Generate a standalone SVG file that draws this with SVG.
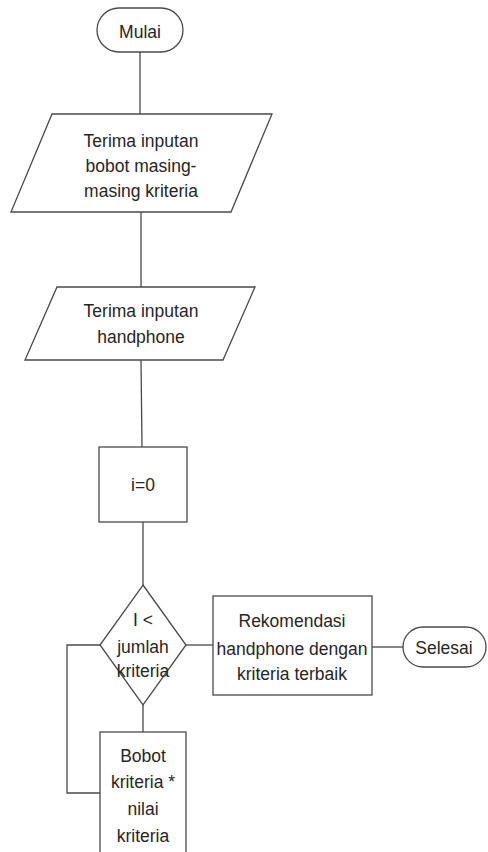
<svg xmlns="http://www.w3.org/2000/svg" width="488" height="852" viewBox="0 0 488 852">
<style>
.s{fill:#fff;stroke:#4a4a4a;stroke-width:1.3}
.c{fill:none;stroke:#4a4a4a;stroke-width:1.3}
text{font-family:"Liberation Sans",Arial,sans-serif;font-size:17.5px;fill:#262626;text-anchor:middle}
</style>
<rect width="488" height="852" fill="#fff"/>
<g id="connectors">
<line class="c" x1="140" y1="52" x2="140" y2="114"/>
<line class="c" x1="141" y1="212" x2="141" y2="287"/>
<line class="c" x1="141" y1="360" x2="142" y2="447"/>
<line class="c" x1="143" y1="522" x2="143" y2="585"/>
<line class="c" x1="186" y1="645" x2="213" y2="645"/>
<line class="c" x1="372" y1="647" x2="403" y2="647"/>
<line class="c" x1="143" y1="705" x2="143" y2="732"/>
<polyline class="c" points="100,793 67,793 67,645 100,645"/>
</g>
<g id="mulai">
<rect class="s" x="97" y="8" width="86" height="44" rx="22"/>
<text x="140" y="38">Mulai</text>
</g>
<g id="input-bobot">
<polygon class="s" points="52,114 272,114 231,212 11,212"/>
<text x="141" y="147">Terima inputan</text>
<text x="141" y="172">bobot masing-</text>
<text x="141" y="197">masing kriteria</text>
</g>
<g id="input-handphone">
<polygon class="s" points="57,287 255,287 223,360 25,360"/>
<text x="141" y="317">Terima inputan</text>
<text x="141" y="343">handphone</text>
</g>
<g id="init">
<rect class="s" x="99" y="447" width="88" height="75"/>
<text x="143" y="491">i=0</text>
</g>
<g id="decision">
<polygon class="s" points="143,585 186,645 143,705 100,645"/>
<text x="143" y="626">I &lt;</text>
<text x="143" y="653">jumlah</text>
<text x="143" y="677">kriteria</text>
</g>
<g id="rekomendasi">
<rect class="s" x="213" y="596" width="159" height="99"/>
<text x="292" y="627">Rekomendasi</text>
<text x="292" y="655">handphone dengan</text>
<text x="292" y="680">kriteria terbaik</text>
</g>
<g id="selesai">
<rect class="s" x="403" y="627" width="83" height="40" rx="20"/>
<text x="444" y="654">Selesai</text>
</g>
<g id="hitung">
<rect class="s" x="100" y="732" width="86" height="130"/>
<text x="143" y="762">Bobot</text>
<text x="143" y="788">kriteria *</text>
<text x="143" y="815">nilai</text>
<text x="143" y="842">kriteria</text>
</g>
</svg>
